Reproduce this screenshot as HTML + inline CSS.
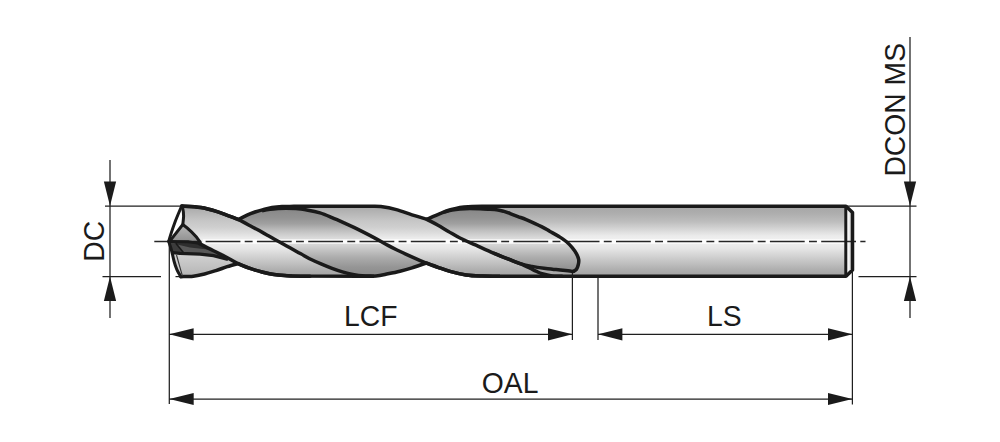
<!DOCTYPE html>
<html><head><meta charset="utf-8"><style>
html,body{margin:0;padding:0;background:#fff;}
body{width:1000px;height:442px;overflow:hidden;}
svg{display:block;}
text{font-family:"Liberation Sans",sans-serif;font-size:28.3px;fill:#1b1b1b;}
</style></head><body>
<svg width="1000" height="442" viewBox="0 0 1000 442">
<defs>
<linearGradient id="land" gradientUnits="userSpaceOnUse" x1="0" y1="206" x2="0" y2="277">
<stop offset="0" stop-color="#a6a6a6"/>
<stop offset="0.10" stop-color="#adadad"/>
<stop offset="0.22" stop-color="#bdbdbd"/>
<stop offset="0.32" stop-color="#d4d4d4"/>
<stop offset="0.42" stop-color="#ebebeb"/>
<stop offset="0.50" stop-color="#f2f2f2"/>
<stop offset="0.60" stop-color="#e6e6e6"/>
<stop offset="0.75" stop-color="#cacaca"/>
<stop offset="0.90" stop-color="#aeaeae"/>
<stop offset="1" stop-color="#a0a0a0"/>
</linearGradient>
<linearGradient id="land2" gradientUnits="userSpaceOnUse" x1="0" y1="206" x2="0" y2="277">
<stop offset="0" stop-color="#a8a8a8"/>
<stop offset="0.10" stop-color="#b6b6b6"/>
<stop offset="0.20" stop-color="#c5c5c5"/>
<stop offset="0.30" stop-color="#cfcfcf"/>
<stop offset="0.38" stop-color="#dddddd"/>
<stop offset="0.45" stop-color="#ebebeb"/>
<stop offset="0.50" stop-color="#f2f2f2"/>
<stop offset="0.60" stop-color="#e6e6e6"/>
<stop offset="0.75" stop-color="#cbcbcb"/>
<stop offset="0.90" stop-color="#afafaf"/>
<stop offset="1" stop-color="#a2a2a2"/>
</linearGradient>
<linearGradient id="flute" gradientUnits="userSpaceOnUse" x1="0" y1="206" x2="0" y2="277">
<stop offset="0" stop-color="#848484"/>
<stop offset="0.085" stop-color="#8b8b8b"/>
<stop offset="0.17" stop-color="#939393"/>
<stop offset="0.25" stop-color="#a0a0a0"/>
<stop offset="0.35" stop-color="#c0c0c0"/>
<stop offset="0.45" stop-color="#dadada"/>
<stop offset="0.50" stop-color="#e0e0e0"/>
<stop offset="0.60" stop-color="#c8c8c8"/>
<stop offset="0.72" stop-color="#adadad"/>
<stop offset="0.86" stop-color="#959595"/>
<stop offset="1" stop-color="#8a8a8a"/>
</linearGradient>
<linearGradient id="chf" gradientUnits="userSpaceOnUse" x1="847" y1="0" x2="852" y2="0">
<stop offset="0" stop-color="#ffffff"/>
<stop offset="0.45" stop-color="#f0f0f0"/>
<stop offset="1" stop-color="#b4b4b4"/>
</linearGradient>
<linearGradient id="tri" gradientUnits="userSpaceOnUse" x1="0" y1="224" x2="0" y2="242">
<stop offset="0" stop-color="#b9b9b9"/>
<stop offset="1" stop-color="#8f8f8f"/>
</linearGradient>
<linearGradient id="low" gradientUnits="userSpaceOnUse" x1="0" y1="252" x2="0" y2="277">
<stop offset="0" stop-color="#d4d4d4"/>
<stop offset="1" stop-color="#b4b4b4"/>
</linearGradient>
</defs>

<path d="M181.6,206.0 C184.8,206.2 195.0,206.5 200.8,207.4 C206.6,208.3 211.9,209.9 216.4,211.3 C220.9,212.7 224.3,214.2 228.0,215.6 C231.7,217.0 236.8,218.9 238.5,219.6 C240.0,218.7 244.8,216.1 247.6,214.8 C250.3,213.6 252.4,212.9 255.0,212.0 C257.6,211.1 260.4,210.3 263.2,209.6 C266.0,208.9 268.9,208.1 272.0,207.6 C275.1,207.1 278.3,206.8 282.0,206.6 C285.7,206.4 292.0,206.4 294.0,206.3 L371.7,206.3 C373.2,206.4 376.7,206.1 380.8,206.6 C384.9,207.1 391.2,208.2 396.4,209.6 C401.6,211.0 406.9,213.2 412.0,214.8 C417.1,216.4 424.5,218.6 427.0,219.4 C428.0,218.9 430.6,217.7 432.8,216.7 C435.0,215.7 437.5,214.6 440.0,213.6 C442.5,212.6 445.3,211.4 448.0,210.5 C450.7,209.6 453.3,209.0 456.0,208.4 C458.7,207.8 461.3,207.4 464.0,207.1 C466.7,206.8 469.0,206.6 472.0,206.5 C475.0,206.4 480.3,206.3 482.0,206.3 L846.0,206.3 L852.5,212.5 L852.5,270.0 L846.0,276.2 L500,276.2 C497.0,276.2 487.7,276.3 482.0,276.1 C476.3,275.9 471.3,275.8 466.0,275.0 C460.7,274.2 454.7,272.7 450.0,271.4 C445.3,270.1 441.9,268.7 437.9,267.3 C433.9,265.9 428.1,263.7 426.2,263.0 C423.8,263.8 416.4,266.4 412.0,267.8 C407.6,269.2 404.0,270.2 400.0,271.2 C396.0,272.2 392.0,273.0 388.0,273.8 C384.0,274.6 380.3,275.6 376.0,276.0 C371.7,276.4 364.3,276.2 362.0,276.2 L292,276.1 C289.0,275.9 279.0,275.3 274.0,274.6 C269.0,273.9 266.0,273.0 262.0,272.0 C258.0,271.0 254.0,269.8 250.0,268.4 C246.0,267.0 240.0,264.4 238.0,263.6 C236.2,264.1 230.9,265.5 227.2,266.7 C223.5,267.9 219.7,269.4 215.9,270.6 C212.1,271.8 208.4,273.1 204.6,274.0 C200.8,274.9 197.3,275.8 193.3,276.2 C189.3,276.6 182.9,276.6 180.8,276.7 C180.2,275.5 178.0,272.2 176.9,269.6 C175.8,267.0 174.9,264.4 174.0,261.0 C173.1,257.6 172.2,252.8 171.3,249.5 C170.4,246.2 169.1,242.8 168.7,241.4 C169.1,240.1 170.0,236.8 171.1,233.4 C172.2,230.0 173.7,225.6 175.4,221.0 C177.2,216.4 180.6,208.5 181.6,206.0 Z" fill="url(#land)"/>
<path d="M181.6,206.0 C184.8,206.2 195.0,206.5 200.8,207.4 C206.6,208.3 211.9,209.9 216.4,211.3 C220.9,212.7 224.3,214.2 228.0,215.6 C231.7,217.0 234.4,217.7 238.5,219.6 C242.6,221.5 247.8,224.5 252.8,227.2 C257.8,229.9 263.9,233.3 268.4,235.8 C272.9,238.3 276.3,240.3 280.0,242.3 C283.7,244.3 286.9,246.1 290.4,248.0 C293.9,249.9 297.3,251.9 300.8,253.8 C304.3,255.7 307.7,257.8 311.2,259.5 C314.7,261.2 318.1,262.7 321.6,264.2 C325.1,265.7 328.5,267.1 332.0,268.4 C335.5,269.7 338.9,270.9 342.4,271.9 C345.9,272.9 349.5,273.8 352.8,274.4 C356.1,275.0 358.5,275.5 362.0,275.8 C365.5,276.1 372.0,276.1 374.0,276.2 L292,276.1 C289.0,275.9 279.0,275.3 274.0,274.6 C269.0,273.9 266.0,273.0 262.0,272.0 C258.0,271.0 254.0,269.8 250.0,268.4 C246.0,267.0 242.0,265.5 238.0,263.6 C234.0,261.7 230.1,259.1 226.0,257.0 C221.9,254.9 217.9,253.0 213.5,250.8 C209.1,248.6 201.8,244.8 199.5,243.6 L191.5,231.8 L182.8,224.5 L183.6,216.3 L182.6,207.5 Z" fill="url(#land2)"/>
<path d="M262.0,210.8 C263.3,210.5 267.3,209.6 270.0,209.2 C272.7,208.8 275.3,208.6 278.0,208.4 C280.7,208.2 283.0,208.2 286.0,208.2 C289.0,208.2 292.3,208.2 296.0,208.5 C299.7,208.8 304.0,209.5 308.0,210.2 C312.0,210.9 316.0,211.7 320.0,212.9 C324.0,214.1 328.0,215.9 332.0,217.6 C336.0,219.2 340.0,221.0 344.0,222.8 C348.0,224.6 351.0,225.9 356.0,228.4 C361.0,230.9 368.7,234.8 374.0,237.6 C379.3,240.4 384.2,243.3 388.0,245.4 C391.8,247.5 393.2,248.2 397.0,250.0 C400.8,251.8 405.8,254.1 410.7,256.3 C415.6,258.5 421.7,261.2 426.2,263.0 C430.7,264.8 433.9,265.9 437.9,267.3 C441.9,268.7 445.3,270.1 450.0,271.4 C454.7,272.7 460.7,274.2 466.0,275.0 C471.3,275.8 476.3,275.9 482.0,276.1 C487.7,276.3 497.0,276.2 500.0,276.2 L562,276.2 C560.3,276.2 555.3,276.4 552.0,276.0 C548.7,275.6 544.7,274.6 542.0,273.8 C539.3,273.0 538.0,272.1 536.0,271.2 C534.0,270.3 532.3,269.3 530.0,268.2 C527.7,267.1 525.0,265.7 522.0,264.4 C519.0,263.1 516.9,262.4 512.2,260.6 C507.6,258.8 500.1,256.0 494.1,253.4 C488.1,250.8 481.7,247.8 476.0,245.2 C470.3,242.6 464.6,240.3 460.0,238.0 C455.4,235.7 452.1,233.5 448.4,231.4 C444.7,229.3 441.6,227.2 438.0,225.2 C434.4,223.2 428.8,220.4 427.0,219.4 C424.5,218.6 417.1,216.4 412.0,214.8 C406.9,213.2 401.6,211.0 396.4,209.6 C391.2,208.2 384.9,207.1 380.8,206.6 C376.7,206.1 373.2,206.4 371.7,206.3 L294,206.3 C292.0,206.4 285.7,206.4 282.0,206.6 C278.3,206.8 275.1,207.1 272.0,207.6 C268.9,208.1 264.7,209.3 263.2,209.6 Z" fill="url(#land2)"/>
<path d="M238.5,219.5 C240.0,218.7 244.8,216.1 247.6,214.8 C250.3,213.6 252.4,212.9 255.0,212.0 C257.6,211.1 260.4,210.3 263.2,209.6 C266.0,208.9 268.9,208.1 272.0,207.6 C275.1,207.1 278.3,206.8 282.0,206.6 C285.7,206.4 292.0,206.4 294.0,206.3 L262,210.8 C263.3,210.5 267.3,209.6 270.0,209.2 C272.7,208.8 275.3,208.6 278.0,208.4 C280.7,208.2 283.0,208.2 286.0,208.2 C289.0,208.2 292.3,208.2 296.0,208.5 C299.7,208.8 304.0,209.5 308.0,210.2 C312.0,210.9 316.0,211.7 320.0,212.9 C324.0,214.1 328.0,215.9 332.0,217.6 C336.0,219.2 340.0,221.0 344.0,222.8 C348.0,224.6 351.0,225.9 356.0,228.4 C361.0,230.9 368.7,234.8 374.0,237.6 C379.3,240.4 384.2,243.3 388.0,245.4 C391.8,247.5 393.2,248.2 397.0,250.0 C400.8,251.8 405.8,254.1 410.7,256.3 C415.6,258.5 423.6,261.9 426.2,263.0 C423.8,263.8 416.4,266.4 412.0,267.8 C407.6,269.2 404.0,270.2 400.0,271.2 C396.0,272.2 392.0,273.0 388.0,273.8 C384.0,274.6 380.3,275.6 376.0,276.0 C371.7,276.4 364.3,276.2 362.0,276.2 L362,275.8 C360.5,275.6 356.1,275.0 352.8,274.4 C349.5,273.8 345.9,272.9 342.4,271.9 C338.9,270.9 335.5,269.7 332.0,268.4 C328.5,267.1 325.1,265.7 321.6,264.2 C318.1,262.7 314.7,261.2 311.2,259.5 C307.7,257.8 304.3,255.7 300.8,253.8 C297.3,251.9 293.9,249.9 290.4,248.0 C286.9,246.1 283.7,244.3 280.0,242.3 C276.3,240.3 272.9,238.3 268.4,235.8 C263.9,233.3 257.8,229.9 252.8,227.2 C247.8,224.5 240.9,220.9 238.5,219.6 Z" fill="url(#flute)"/>
<path d="M427,219.4 C428.0,218.9 430.6,217.7 432.8,216.7 C435.0,215.7 437.5,214.6 440.0,213.6 C442.5,212.6 445.3,211.4 448.0,210.5 C450.7,209.6 453.3,209.0 456.0,208.4 C458.7,207.8 461.3,207.4 464.0,207.1 C466.7,206.8 469.0,206.6 472.0,206.5 C475.0,206.4 480.3,206.3 482.0,206.3 L444,212.0 C445.3,211.7 449.3,210.5 452.0,210.0 C454.7,209.5 457.0,209.2 460.0,208.9 C463.0,208.7 466.7,208.5 470.0,208.5 C473.3,208.5 476.7,208.6 480.0,208.7 C483.3,208.8 487.0,209.1 490.0,209.3 C493.0,209.5 495.7,209.7 498.0,210.0 C500.3,210.3 501.9,210.8 504.0,211.4 C506.1,212.0 508.5,212.9 510.8,213.8 C513.1,214.7 515.4,215.6 518.0,216.6 C520.6,217.6 522.3,217.9 526.2,219.6 C530.1,221.3 537.5,224.6 541.5,226.6 C545.5,228.6 547.0,229.7 550.0,231.4 C553.0,233.1 556.6,235.0 559.4,236.8 C562.2,238.6 564.7,240.2 566.8,242.0 C568.9,243.8 570.6,245.7 572.2,247.6 C573.8,249.5 575.3,251.6 576.4,253.6 C577.5,255.6 578.4,257.7 578.7,259.6 C579.0,261.5 578.6,263.4 578.2,265.0 C577.8,266.6 577.2,268.3 576.4,269.4 C575.6,270.5 573.7,271.2 573.2,271.6 C572.3,271.5 570.9,271.1 568.0,270.8 C565.1,270.5 560.0,270.0 556.0,269.6 C552.0,269.2 548.0,268.7 544.0,268.2 C540.0,267.7 535.7,267.1 532.0,266.4 C528.3,265.7 525.3,265.2 522.0,264.2 C518.7,263.2 516.9,262.4 512.2,260.6 C507.6,258.8 497.1,254.6 494.1,253.4 C491.1,252.0 481.7,247.8 476.0,245.2 C470.3,242.6 464.6,240.3 460.0,238.0 C455.4,235.7 452.1,233.5 448.4,231.4 C444.7,229.3 441.6,227.2 438.0,225.2 C434.4,223.2 428.8,220.4 427.0,219.4 Z" fill="url(#flute)"/>
<polygon points="846.5,207.5 852.5,212.5 852.5,270 846.5,275" fill="url(#chf)"/>
<path d="M181.6,206 C180.6,208.5 177.2,216.4 175.4,221.0 C173.7,225.6 172.2,230.0 171.1,233.4 C170.0,236.8 169.1,240.1 168.7,241.4 L182.8,224.5 L183.6,216.3 L182.6,207.5 Z" fill="#ffffff"/>
<path d="M182.8,224.5 C185.5,226.5 188.5,229 191.5,231.8 C194.5,234.6 197.8,238 200.2,241.8 L170.5,241.2 Z" fill="url(#tri)"/>
<polygon points="168.7,241.4 200.2,242.6 213.5,250.8 226,257.6 213.5,255.6 200,254.2 180,253.2 172.5,252.6" fill="#585858"/>
<polygon points="169.5,241.6 200.2,243 212,250 190,247.4 176,244.2" fill="#2e2e2e"/>
<polygon points="170,243 175.8,243.4 183.4,252.6 172.6,252.6" fill="#3c3c3c"/>
<path d="M172.6,252.6 L176.5,255 L182.4,276.2 L180.8,276.7 C180.2,275.5 178.0,272.2 176.9,269.6 C175.8,267.0 174.5,262.4 174.0,261.0 Z" fill="#cfcfcf"/>
<path d="M176.5,255.2 L206,256 L226,258.6 L237,263.4 C236.2,264.1 230.9,265.5 227.2,266.7 C223.5,267.9 219.7,269.4 215.9,270.6 C212.1,271.8 208.4,273.1 204.6,274.0 C200.8,274.9 197.3,275.8 193.3,276.2 C189.3,276.6 182.9,276.6 180.8,276.7 L182.4,276.2 Z" fill="url(#low)"/>
<line x1="203" y1="241.5" x2="845" y2="241.5" stroke="#ffffff" stroke-opacity="0.85" stroke-width="4.5"/>
<line x1="154.3" y1="241.5" x2="865.5" y2="241.5" stroke="#262626" stroke-width="1.6" stroke-dasharray="34.8 4.3 7.9 4.3"/>
<path d="M181.6,206.0 C184.8,206.2 195.0,206.5 200.8,207.4 C206.6,208.3 211.9,209.9 216.4,211.3 C220.9,212.7 224.3,214.2 228.0,215.6 C231.7,217.0 236.8,218.9 238.5,219.6 C240.0,218.7 244.8,216.1 247.6,214.8 C250.3,213.6 252.4,212.9 255.0,212.0 C257.6,211.1 260.4,210.3 263.2,209.6 C266.0,208.9 268.9,208.1 272.0,207.6 C275.1,207.1 278.3,206.8 282.0,206.6 C285.7,206.4 292.0,206.4 294.0,206.3 L371.7,206.3 C373.2,206.4 376.7,206.1 380.8,206.6 C384.9,207.1 391.2,208.2 396.4,209.6 C401.6,211.0 406.9,213.2 412.0,214.8 C417.1,216.4 424.5,218.6 427.0,219.4 C428.0,218.9 430.6,217.7 432.8,216.7 C435.0,215.7 437.5,214.6 440.0,213.6 C442.5,212.6 445.3,211.4 448.0,210.5 C450.7,209.6 453.3,209.0 456.0,208.4 C458.7,207.8 461.3,207.4 464.0,207.1 C466.7,206.8 469.0,206.6 472.0,206.5 C475.0,206.4 480.3,206.3 482.0,206.3 L846.0,206.3 L852.5,212.5 L852.5,270.0 L846.0,276.2 L500,276.2 C497.0,276.2 487.7,276.3 482.0,276.1 C476.3,275.9 471.3,275.8 466.0,275.0 C460.7,274.2 454.7,272.7 450.0,271.4 C445.3,270.1 441.9,268.7 437.9,267.3 C433.9,265.9 428.1,263.7 426.2,263.0 C423.8,263.8 416.4,266.4 412.0,267.8 C407.6,269.2 404.0,270.2 400.0,271.2 C396.0,272.2 392.0,273.0 388.0,273.8 C384.0,274.6 380.3,275.6 376.0,276.0 C371.7,276.4 364.3,276.2 362.0,276.2 L292,276.1 C289.0,275.9 279.0,275.3 274.0,274.6 C269.0,273.9 266.0,273.0 262.0,272.0 C258.0,271.0 254.0,269.8 250.0,268.4 C246.0,267.0 240.0,264.4 238.0,263.6 C236.2,264.1 230.9,265.5 227.2,266.7 C223.5,267.9 219.7,269.4 215.9,270.6 C212.1,271.8 208.4,273.1 204.6,274.0 C200.8,274.9 197.3,275.8 193.3,276.2 C189.3,276.6 182.9,276.6 180.8,276.7" fill="none" stroke="#1a1a1a" stroke-width="3.5" stroke-linejoin="round" stroke-linecap="round"/>
<path d="M181.6,206.0 C184.8,206.2 195.0,206.5 200.8,207.4 C206.6,208.3 211.9,209.9 216.4,211.3 C220.9,212.7 224.3,214.2 228.0,215.6 C231.7,217.0 234.4,217.7 238.5,219.6 C242.6,221.5 247.8,224.5 252.8,227.2 C257.8,229.9 263.9,233.3 268.4,235.8 C272.9,238.3 276.3,240.3 280.0,242.3 C283.7,244.3 286.9,246.1 290.4,248.0 C293.9,249.9 297.3,251.9 300.8,253.8 C304.3,255.7 307.7,257.8 311.2,259.5 C314.7,261.2 318.1,262.7 321.6,264.2 C325.1,265.7 328.5,267.1 332.0,268.4 C335.5,269.7 338.9,270.9 342.4,271.9 C345.9,272.9 349.5,273.8 352.8,274.4 C356.1,275.0 358.5,275.5 362.0,275.8 C365.5,276.1 372.0,276.1 374.0,276.2" fill="none" stroke="#1a1a1a" stroke-width="3.5" stroke-linejoin="round" stroke-linecap="butt"/>
<path d="M262.0,210.8 C263.3,210.5 267.3,209.6 270.0,209.2 C272.7,208.8 275.3,208.6 278.0,208.4 C280.7,208.2 283.0,208.2 286.0,208.2 C289.0,208.2 292.3,208.2 296.0,208.5 C299.7,208.8 304.0,209.5 308.0,210.2 C312.0,210.9 316.0,211.7 320.0,212.9 C324.0,214.1 328.0,215.9 332.0,217.6 C336.0,219.2 340.0,221.0 344.0,222.8 C348.0,224.6 351.0,225.9 356.0,228.4 C361.0,230.9 368.7,234.8 374.0,237.6 C379.3,240.4 384.2,243.3 388.0,245.4 C391.8,247.5 393.2,248.2 397.0,250.0 C400.8,251.8 405.8,254.1 410.7,256.3 C415.6,258.5 421.7,261.2 426.2,263.0 C430.7,264.8 433.9,265.9 437.9,267.3 C441.9,268.7 445.3,270.1 450.0,271.4 C454.7,272.7 460.7,274.2 466.0,275.0 C471.3,275.8 476.3,275.9 482.0,276.1 C487.7,276.3 497.0,276.2 500.0,276.2" fill="none" stroke="#1a1a1a" stroke-width="3.5" stroke-linejoin="round" stroke-linecap="butt"/>
<path d="M444.0,212.0 C445.3,211.7 449.3,210.5 452.0,210.0 C454.7,209.5 457.0,209.2 460.0,208.9 C463.0,208.7 466.7,208.5 470.0,208.5 C473.3,208.5 476.7,208.6 480.0,208.7 C483.3,208.8 487.0,209.1 490.0,209.3 C493.0,209.5 495.7,209.7 498.0,210.0 C500.3,210.3 501.9,210.8 504.0,211.4 C506.1,212.0 508.5,212.9 510.8,213.8 C513.1,214.7 515.4,215.6 518.0,216.6 C520.6,217.6 522.3,217.9 526.2,219.6 C530.1,221.3 537.5,224.6 541.5,226.6 C545.5,228.6 547.0,229.7 550.0,231.4 C553.0,233.1 556.6,235.0 559.4,236.8 C562.2,238.6 564.7,240.2 566.8,242.0 C568.9,243.8 570.6,245.7 572.2,247.6 C573.8,249.5 575.3,251.6 576.4,253.6 C577.5,255.6 578.4,257.7 578.7,259.6 C579.0,261.5 578.6,263.4 578.2,265.0 C577.8,266.6 577.2,268.3 576.4,269.4 C575.6,270.5 573.7,271.2 573.2,271.6" fill="none" stroke="#1a1a1a" stroke-width="3.5" stroke-linejoin="round" stroke-linecap="butt"/>
<path d="M427.0,219.4 C428.8,220.4 434.4,223.2 438.0,225.2 C441.6,227.2 444.7,229.3 448.4,231.4 C452.1,233.5 455.4,235.7 460.0,238.0 C464.6,240.3 470.3,242.6 476.0,245.2 C481.7,247.8 488.1,250.8 494.1,253.4 C500.1,256.0 507.6,258.8 512.2,260.6 C516.9,262.4 519.0,263.1 522.0,264.4 C525.0,265.7 527.7,267.1 530.0,268.2 C532.3,269.3 534.0,270.3 536.0,271.2 C538.0,272.1 539.3,273.0 542.0,273.8 C544.7,274.6 548.7,275.6 552.0,276.0 C555.3,276.4 560.3,276.2 562.0,276.2" fill="none" stroke="#1a1a1a" stroke-width="3.5" stroke-linejoin="round" stroke-linecap="round"/>
<path d="M494.1,253.4 C497.1,254.6 507.6,258.8 512.2,260.6 C516.9,262.4 518.7,263.2 522.0,264.2 C525.3,265.2 528.3,265.7 532.0,266.4 C535.7,267.1 540.0,267.7 544.0,268.2 C548.0,268.7 552.0,269.2 556.0,269.6 C560.0,270.0 565.1,270.5 568.0,270.8 C570.9,271.1 572.3,271.5 573.2,271.6" fill="none" stroke="#1a1a1a" stroke-width="3.5" stroke-linejoin="round" stroke-linecap="round"/>
<path d="M199.5,243.6 C201.8,244.8 209.1,248.6 213.5,250.8 C217.9,253.0 221.9,254.9 226.0,257.0 C230.1,259.1 234.0,261.7 238.0,263.6 C242.0,265.5 246.0,267.0 250.0,268.4 C254.0,269.8 258.0,271.0 262.0,272.0 C266.0,273.0 269.0,273.9 274.0,274.6 C279.0,275.3 286.0,275.8 292.0,276.1 C298.0,276.4 307.0,276.2 310.0,276.2" fill="none" stroke="#1a1a1a" stroke-width="3.5" stroke-linejoin="round" stroke-linecap="round"/>
<path d="M168.7,241.4 C169.1,240.1 170.0,236.8 171.1,233.4 C172.2,230.0 173.7,225.6 175.4,221.0 C177.2,216.4 180.6,208.5 181.6,206.0" fill="none" stroke="#1a1a1a" stroke-width="3.0" stroke-linejoin="round" stroke-linecap="round"/>
<path d="M168.7,241.4 C169.1,242.8 170.4,246.2 171.3,249.5 C172.2,252.8 173.1,257.6 174.0,261.0 C174.9,264.4 175.8,267.0 176.9,269.6 C178.0,272.2 180.2,275.5 180.8,276.7" fill="none" stroke="#1a1a1a" stroke-width="3.0" stroke-linejoin="round" stroke-linecap="round"/>
<path d="M182.6,207.5 C183.2,210 183.6,213 183.6,216.3 C183.5,219 183.1,222 182.8,224.5 L171,239.6" fill="none" stroke="#1a1a1a" stroke-width="3.0" stroke-linejoin="round" stroke-linecap="round"/>
<path d="M182.8,224.5 C185.5,226.5 188.5,229 191.5,231.8 C194.5,234.6 197.8,238 200.2,242.2" fill="none" stroke="#1a1a1a" stroke-width="3.0" stroke-linejoin="round" stroke-linecap="round"/>
<polyline points="169.2,241.4 188,241.8 196,242.8 200.2,243.4" fill="none" stroke="#1a1a1a" stroke-width="3.0" stroke-linejoin="round" stroke-linecap="round"/>
<polyline points="172.8,252.6 180,253.4 200,254.2 213.5,255.6 228,259.4" fill="none" stroke="#1a1a1a" stroke-width="3.2" stroke-linejoin="round"/>
<polyline points="175.8,243.2 183.4,252.4" fill="none" stroke="#1a1a1a" stroke-width="1.6"/>
<polyline points="176.5,255 182.4,276" fill="none" stroke="#333" stroke-width="1.1"/>
<line x1="845.8" y1="206.5" x2="845.8" y2="276" stroke="#1a1a1a" stroke-width="3.0"/>
<line x1="110" y1="160" x2="110" y2="318" stroke="#1f1f1f" stroke-width="1.25" fill="none"/>
<line x1="105" y1="206" x2="181" y2="206" stroke="#1f1f1f" stroke-width="1.25" fill="none"/>
<line x1="102.5" y1="276.6" x2="161" y2="276.6" stroke="#1f1f1f" stroke-width="1.25" fill="none"/>
<line x1="175.5" y1="276.6" x2="181" y2="276.6" stroke="#1f1f1f" stroke-width="1.25" fill="none"/>
<polygon points="110.0,206.0 103.9,181.6 116.1,181.6" fill="#1b1b1b"/>
<polygon points="110.0,276.6 103.9,301.0 116.1,301.0" fill="#1b1b1b"/>
<line x1="910" y1="37" x2="910" y2="318" stroke="#1f1f1f" stroke-width="1.25" fill="none"/>
<line x1="846" y1="206" x2="916.5" y2="206" stroke="#1f1f1f" stroke-width="1.25" fill="none"/>
<line x1="858.5" y1="276.5" x2="916.5" y2="276.5" stroke="#1f1f1f" stroke-width="1.25" fill="none"/>
<polygon points="910.0,206.0 903.9,181.6 916.1,181.6" fill="#1b1b1b"/>
<polygon points="910.0,276.5 903.9,300.9 916.1,300.9" fill="#1b1b1b"/>
<line x1="169.3" y1="242" x2="169.3" y2="404" stroke="#1f1f1f" stroke-width="1.25" fill="none"/>
<line x1="572.4" y1="273" x2="572.4" y2="340" stroke="#1f1f1f" stroke-width="1.25" fill="none"/>
<line x1="598" y1="277" x2="598" y2="340" stroke="#1f1f1f" stroke-width="1.25" fill="none"/>
<line x1="852.4" y1="272" x2="852.4" y2="404.5" stroke="#1f1f1f" stroke-width="1.25" fill="none"/>
<line x1="169.2" y1="334.3" x2="572.4" y2="334.3" stroke="#1f1f1f" stroke-width="1.25" fill="none"/>
<polygon points="169.2,334.3 193.6,328.2 193.6,340.4" fill="#1b1b1b"/>
<polygon points="572.4,334.3 548.0,328.2 548.0,340.4" fill="#1b1b1b"/>
<line x1="598" y1="334.3" x2="852.4" y2="334.3" stroke="#1f1f1f" stroke-width="1.25" fill="none"/>
<polygon points="598.0,334.3 622.4,328.2 622.4,340.4" fill="#1b1b1b"/>
<polygon points="852.4,334.3 828.0,328.2 828.0,340.4" fill="#1b1b1b"/>
<line x1="169.3" y1="399" x2="852.4" y2="399" stroke="#1f1f1f" stroke-width="1.25" fill="none"/>
<polygon points="169.3,399.0 193.7,392.9 193.7,405.1" fill="#1b1b1b"/>
<polygon points="852.4,399.0 828.0,392.9 828.0,405.1" fill="#1b1b1b"/>
<text transform="translate(344.0,326.1) scale(1,1.075)">LCF</text>
<text transform="translate(707.0,326.2) scale(1,1.075)">LS</text>
<text transform="translate(481.8,392.8) scale(1,1.075)">OAL</text>
<text transform="translate(104.4,261.7) rotate(-90) scale(1,1.075)">DC</text>
<text transform="translate(905.0,176.6) rotate(-90) scale(1,1.075)">DCON MS</text>
</svg></body></html>
